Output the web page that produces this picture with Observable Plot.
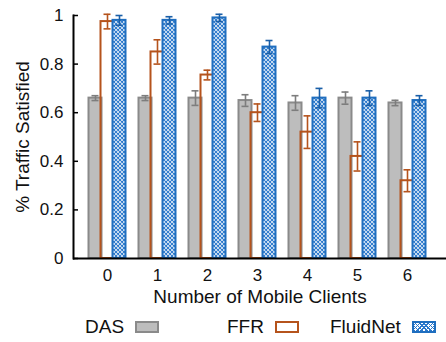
<!DOCTYPE html>
<html>
<head>
<meta charset="utf-8">
<script src="https://cdn.jsdelivr.net/npm/d3@7"></script>
<script src="https://cdn.jsdelivr.net/npm/@observablehq/plot@0.6"></script>
<style>
  html, body { margin: 0; padding: 0; background: #fff; }
  body { width: 446px; height: 342px; overflow: hidden; font-family: "Liberation Sans", Arial, Helvetica, sans-serif; }
  #legend { position: relative; height: 30px; font-size: 19px; color: #111; }
  .item { position: absolute; top: 4px; display: flex; align-items: center; white-space: nowrap; }
  .sw { display: inline-block; width: 20px; height: 8px; margin-left: 11px; box-sizing: content-box; }
</style>
</head>
<body>
<div id="chart"></div>
<div id="legend"></div>
<script>
// ---- data ----
const categories = [0, 1, 2, 3, 4, 5, 6];
const seriesNames = ["DAS", "FFR", "FluidNet"];
const dasValues = [0.66, 0.66, 0.66, 0.65, 0.64, 0.66, 0.64];
const dasErrors = [0.01, 0.01, 0.03, 0.024, 0.03, 0.025, 0.011];
const ffrValues = [0.975, 0.85, 0.755, 0.60, 0.52, 0.42, 0.32];
const ffrErrors = [0.03, 0.05, 0.02, 0.036, 0.067, 0.06, 0.045];
const fluidValues = [0.98, 0.98, 0.99, 0.87, 0.66, 0.66, 0.65];
const fluidErrors = [0.02, 0.015, 0.015, 0.027, 0.04, 0.03, 0.02];
const yTicks = [0, 0.2, 0.4, 0.6, 0.8, 1];
const xTitle = "Number of Mobile Clients";
const yTitle = "% Traffic Satisfied";

const valuesBySeries = {DAS: dasValues, FFR: ffrValues, FluidNet: fluidValues};
const errorsBySeries = {DAS: dasErrors, FFR: ffrErrors, FluidNet: fluidErrors};
const rows = [];
for (const s of seriesNames) {
  categories.forEach((c, i) => rows.push({category: c, series: s, value: valuesBySeries[s][i], error: errorsBySeries[s][i]}));
}
const bySeries = s => rows.filter(r => r.series === s);

// ---- styles ----
const style = {
  DAS: {fill: "#bdbdbd", stroke: "#8a8a8a", err: "#7d7d7d", inL: 6.5, inR: 30.5},
  FFR: {fill: "none", stroke: "#b5531c", err: "#b5531c", inL: 18.5, inR: 18.5},
  FluidNet: {fill: "url(#hatch)", stroke: "#1f6ebf", err: "#1a5fa8", inL: 30.5, inR: 6.5}
};
const W = 446, H = 312, ML = 73, MT = 15, MB = 54;

const marks = [];
for (const s of seriesNames) {
  const st = style[s];
  const data = bySeries(s);
  marks.push(Plot.barY(data, {x: "category", y: "value", fill: st.fill, stroke: st.stroke, strokeWidth: 2, insetLeft: st.inL, insetRight: st.inR}));
}
for (const s of seriesNames) {
  const st = style[s];
  const data = bySeries(s);
  const dx = (st.inL - st.inR) / 2;
  marks.push(Plot.ruleX(data, {x: "category", y1: d => d.value - d.error, y2: d => d.value + d.error, stroke: st.err, strokeWidth: 1.6, dx}));
  marks.push(Plot.tickY(data, {x: "category", y: d => d.value - d.error, stroke: st.err, strokeWidth: 1.6, insetLeft: 25 + dx - 3.5, insetRight: 25 - dx - 3.5}));
  marks.push(Plot.tickY(data, {x: "category", y: d => d.value + d.error, stroke: st.err, strokeWidth: 1.6, insetLeft: 25 + dx - 3.5, insetRight: 25 - dx - 3.5}));
}

const chart = Plot.plot({
  width: W,
  height: H,
  marginLeft: ML,
  marginRight: 0,
  marginTop: MT,
  marginBottom: MB,
  style: {fontFamily: "'Liberation Sans', Arial, Helvetica, sans-serif", fontSize: "17px", color: "#111", background: "#fff"},
  x: {type: "band", domain: categories, range: [82, 432], padding: 0},
  y: {domain: [0, 1]},
  marks: [
    ...marks,
    Plot.axisY({ticks: yTicks, tickFormat: d => String(d), tickSize: 0, tickPadding: 10, fontSize: 17, label: null}),
    Plot.tickY(yTicks, {y: d => d, stroke: "#000", strokeWidth: 1.5, insetRight: W - ML - 5}),
    Plot.axisX({tickSize: 0, tickPadding: 10, fontSize: 17, label: null}),
    Plot.ruleY([0], {stroke: "#000", strokeWidth: 2}),
    Plot.frame({anchor: "left", stroke: "#000", strokeWidth: 2}),
    Plot.text([xTitle], {frameAnchor: "bottom", dy: 38, lineAnchor: "middle", textAnchor: "middle", fontSize: 19, fill: "#111"}),
    Plot.text([yTitle], {frameAnchor: "left", dx: -51, rotate: -90, textAnchor: "middle", lineAnchor: "middle", fontSize: 19, fill: "#111"})
  ]
});

// hatch pattern for FluidNet
const ns = "http://www.w3.org/2000/svg";
const defs = document.createElementNS(ns, "defs");
defs.innerHTML = '<pattern id="hatch" patternUnits="userSpaceOnUse" width="4" height="4">' +
  '<rect width="4" height="4" fill="#ffffff"/>' +
  '<path d="M-1,1 L1,-1 M0,4 L4,0 M3,5 L5,3 M-1,3 L1,5 M0,0 L4,4 M3,-1 L5,1" stroke="#2a78cc" stroke-width="1.1"/>' +
  '</pattern>';
chart.insertBefore(defs, chart.firstChild);
document.getElementById("chart").appendChild(chart);

// legend
const legendPos = {DAS: 85, FFR: 227, FluidNet: 330};
const legend = document.getElementById("legend");
for (const s of seriesNames) {
  const st = style[s];
  const item = document.createElement("div");
  item.className = "item";
  item.style.left = legendPos[s] + "px";
  const label = document.createElement("span");
  label.textContent = s;
  const sw = document.createElement("span");
  sw.className = "sw";
  sw.style.border = "2px solid " + st.stroke;
  if (s === "FluidNet") {
    sw.style.background = "#fff";
    sw.style.backgroundImage = "repeating-linear-gradient(45deg, #2a78cc 0 1px, transparent 1px 3px), repeating-linear-gradient(-45deg, #2a78cc 0 1px, transparent 1px 3px)";
  } else {
    sw.style.background = st.fill === "none" ? "#fff" : st.fill;
  }
  item.appendChild(label);
  item.appendChild(sw);
  legend.appendChild(item);
}
</script>
</body>
</html>
